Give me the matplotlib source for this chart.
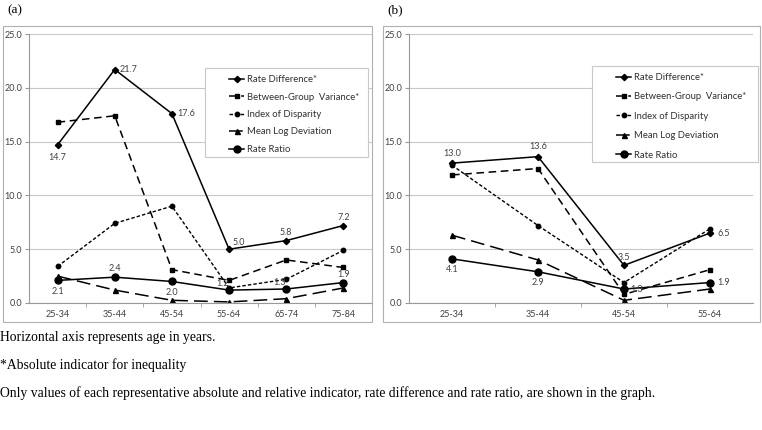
import numpy as np
import matplotlib.pyplot as plt
from matplotlib.patches import Rectangle

# ── data ─────────────────────────────────────────────────────
ages_a = ['25-34', '35-44', '45-54', '55-64', '65-74', '75-84']
rd_a = [14.7, 21.7, 17.6, 5.0, 5.8, 7.2]
bgv_a = [16.8, 17.4, 3.1, 2.1, 4.0, 3.3]
idisp_a = [3.4, 7.4, 9.0, 1.4, 2.2, 4.9]
mld_a = [2.5, 1.2, 0.25, 0.1, 0.4, 1.4]
rr_a = [2.1, 2.4, 2.0, 1.2, 1.3, 1.9]

ages_b = ['25-34', '35-44', '45-54', '55-64']
rd_b = [13.0, 13.6, 3.5, 6.5]
bgv_b = [11.9, 12.5, 0.8, 3.1]
idisp_b = [12.8, 7.2, 1.9, 6.9]
mld_b = [6.3, 4.0, 0.25, 1.3]
rr_b = [4.1, 2.9, 1.3, 1.9]

# label offsets (points) for rate difference / rate ratio values
rd_off_a = [(0, -9), (10, 0), (10, 0), (7, 5), (0, 6), (0, 6)]
rr_off_a = [(0, -8), (0, 6), (0, -8), (-5, 5), (-5, 5), (0, 6)]
rd_off_b = [(0, 7), (0, 7), (0, 6), (10, 0)]
rr_off_b = [(0, -8), (0, -8), (9, 0), (10, 0)]

W, H = 762, 430
fig = plt.figure(figsize=(W / 100, H / 100), dpi=100)

SANS = ['Lato', 'DejaVu Sans']
GRID = '#c8c8c8'
TICK = '#404040'


def panel(rect, ages, rd, bgv, idisp, mld, rr, rd_off, rr_off, leg_rect, spacing):
    x0, y0, x1, y1 = rect
    ax = fig.add_axes([x0 / W, 1 - y1 / H, (x1 - x0) / W, (y1 - y0) / H])
    x = np.arange(len(ages))
    ax.plot(x, rd, '-', color='black', lw=1.1, marker='D', ms=3.2, label='Rate Difference*')
    ax.plot(x, bgv, color='black', lw=1.1, ls=(0, (5, 3)), marker='s', ms=3.2,
            label='Between-Group  Variance*')
    ax.plot(x, idisp, color='black', lw=1.0, ls=(0, (2.5, 1.5)), marker='o', ms=3.2,
            label='Index of Disparity')
    ax.plot(x, mld, color='black', lw=1.1, ls=(0, (9, 4)), marker='^', ms=3.6,
            label='Mean Log Deviation')
    ax.plot(x, rr, '-', color='black', lw=1.1, marker='o', ms=5, label='Rate Ratio')

    for xi, v, off in zip(x, rd, rd_off):
        ax.annotate(f'{v:.1f}', (xi, v), xytext=off, textcoords='offset points',
                    ha='center', va='center', fontsize=6.5, color=TICK, family=SANS)
    for xi, v, off in zip(x, rr, rr_off):
        ax.annotate(f'{v:.1f}', (xi, v), xytext=off, textcoords='offset points',
                    ha='center', va='center', fontsize=6.5, color=TICK, family=SANS)

    ax.set_xlim(-0.5, len(ages) - 0.5)
    ax.set_ylim(0, 25)
    ax.set_yticks(np.arange(0, 25.1, 5))
    ax.set_yticklabels([f'{v:.1f}' for v in np.arange(0, 25.1, 5)], family=SANS)
    ax.set_xticks(x)
    ax.set_xticklabels(ages, family=SANS)
    ax.set_xticks(np.arange(0.5, len(ages) - 0.5, 1), minor=True)
    ax.tick_params(axis='x', which='major', length=0, labelsize=6.5, labelcolor=TICK, pad=5)
    ax.tick_params(axis='x', which='minor', length=3, color='#999999', direction='out')
    ax.tick_params(axis='y', length=3, color='#999999', labelsize=6.5, labelcolor=TICK, pad=2)
    ax.grid(axis='y', color=GRID, lw=0.8)
    ax.set_axisbelow(True)
    for s in ['top', 'right']:
        ax.spines[s].set_visible(False)
    for s in ['left', 'bottom']:
        ax.spines[s].set_color('#999999')
        ax.spines[s].set_linewidth(0.8)

    # legend: frame drawn separately so the entries can sit indented inside it
    lx0, ly0, lx1, ly1 = leg_rect
    ax.add_patch(Rectangle((lx0 / W, 1 - ly1 / H), (lx1 - lx0) / W, (ly1 - ly0) / H,
                           transform=fig.transFigure, facecolor='white',
                           edgecolor='#c8c8c8', lw=0.8, zorder=4, clip_on=False))
    leg = ax.legend(loc='upper left', bbox_to_anchor=((lx0 + 24) / W, 1 - (ly0 + 7) / H),
                    bbox_transform=fig.transFigure,
                    prop={'family': SANS, 'size': 6.8},
                    handlelength=1.6, handletextpad=0.3, labelspacing=spacing,
                    borderpad=0, frameon=False, borderaxespad=0)
    leg.set_zorder(6)
    for t in leg.get_texts():
        t.set_color('#303030')
    return ax


# outer chart boxes
fig.patches.append(Rectangle((3 / W, 1 - 322 / H), 369 / W, 296 / H, transform=fig.transFigure,
                             fill=False, edgecolor='#b0b0b0', lw=0.8))
fig.patches.append(Rectangle((383 / W, 1 - 322 / H), 377 / W, 296 / H, transform=fig.transFigure,
                             fill=False, edgecolor='#b0b0b0', lw=0.8))

panel((29, 34, 372, 303), ages_a, rd_a, bgv_a, idisp_a, mld_a, rr_a, rd_off_a, rr_off_a,
      (205, 68, 368, 157), 0.9)
panel((409, 34, 753, 303), ages_b, rd_b, bgv_b, idisp_b, mld_b, rr_b, rd_off_b, rr_off_b,
      (592, 66, 758, 162), 1.1)

serif = ['Liberation Serif', 'DejaVu Serif']
fig.text(7 / W, 1 - 10 / H, '(a)', family=serif, fontsize=9.5, va='center')
fig.text(387 / W, 1 - 10 / H, '(b)', family=serif, fontsize=9.5, va='center')
fig.text(0, 1 - 337 / H, 'Horizontal axis represents age in years.', family=serif, fontsize=9.8,
         va='center')
fig.text(0, 1 - 365 / H, '*Absolute indicator for inequality', family=serif, fontsize=9.8,
         va='center')
fig.text(0, 1 - 393 / H, 'Only values of each representative absolute and relative indicator, '
         'rate difference and rate ratio, are shown in the graph.', family=serif, fontsize=9.8,
         va='center')

fig.savefig('out.png', dpi=100)
